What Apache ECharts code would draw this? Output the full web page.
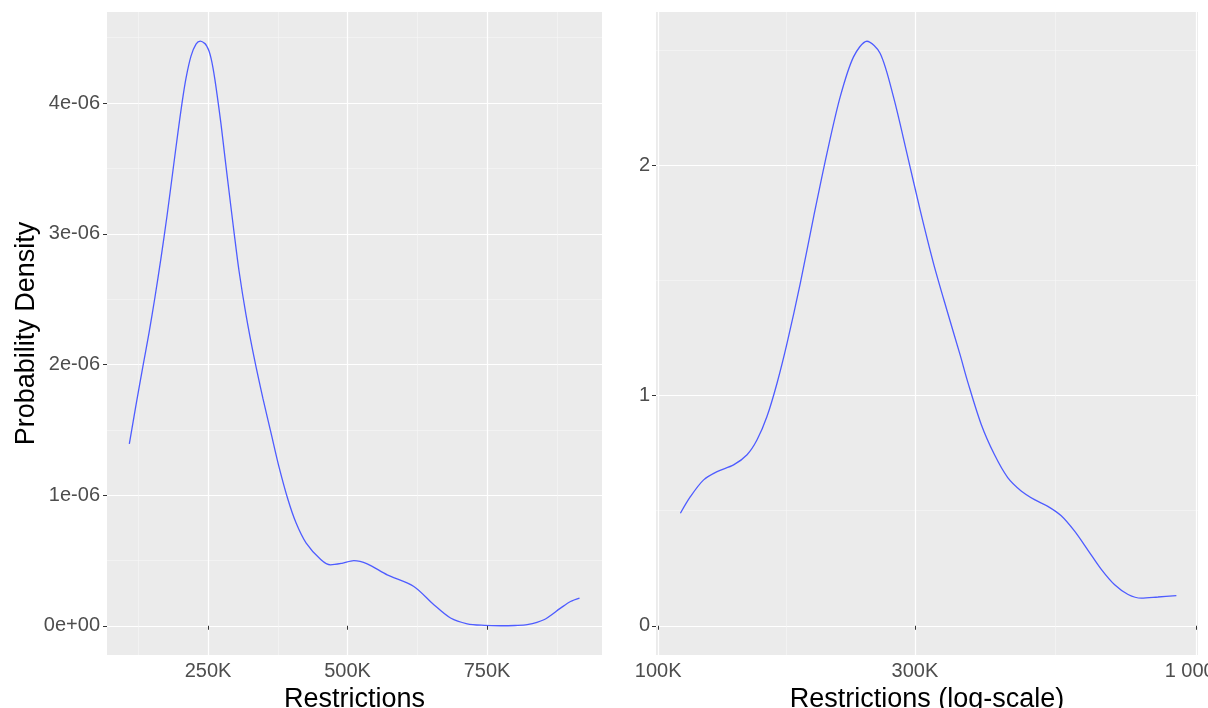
<!DOCTYPE html>
<html>
<head>
<meta charset="utf-8">
<script src="https://cdn.jsdelivr.net/npm/echarts@6/dist/echarts.min.js"></script>
<style>
html,body{margin:0;padding:0;background:#fff;}
#chart{width:1208px;height:708px;}
</style>
</head>
<body>
<div id="chart"></div>
<script>
// Left panel: density on linear scale
const linX = [109000,121000,133500,144300,155000,165800,176500,187300,196200,203400,210600,219500,228500,236200,244600,248200,251800,255400,259000,262500,266100,273300,280500,287600,296600,305600,318100,332400,348600,362900,377200,393400,407700,425600,452500,469500,490000,511300,535300,571100,618800,654700,684600,714500,745000,774200,800000,822000,851800,881700,899600,915700];
const linY = [1.392e-6,1.690e-6,1.989e-6,2.241e-6,2.516e-6,2.815e-6,3.136e-6,3.488e-6,3.778e-6,4.000e-6,4.191e-6,4.359e-6,4.451e-6,4.474e-6,4.455e-6,4.432e-6,4.398e-6,4.344e-6,4.268e-6,4.176e-6,4.069e-6,3.839e-6,3.579e-6,3.327e-6,3.013e-6,2.715e-6,2.379e-6,2.057e-6,1.736e-6,1.476e-6,1.216e-6,0.964e-6,0.788e-6,0.635e-6,0.505e-6,0.466e-6,0.478e-6,0.499e-6,0.474e-6,0.390e-6,0.301e-6,0.161e-6,0.059e-6,0.015e-6,0.003e-6,0.000e-6,0.002e-6,0.008e-6,0.046e-6,0.135e-6,0.186e-6,0.212e-6];

// Right panel: density on log scale
const logX = [110000,114800,121500,128700,138100,146300,152700,159300,166300,173600,183700,194500,205900,217900,230700,244300,258600,273700,289900,306800,324800,343900,364000,376000,398100,421500,446200,472600,500400,529700,561000,594000,629100,665900,705000,746700,790300,848600,918000];
const logY = [0.489,0.561,0.634,0.670,0.699,0.743,0.808,0.909,1.054,1.228,1.488,1.777,2.053,2.298,2.472,2.540,2.487,2.298,2.053,1.806,1.575,1.372,1.177,1.060,0.877,0.744,0.644,0.586,0.548,0.519,0.478,0.411,0.328,0.245,0.178,0.136,0.120,0.125,0.131];

// Tick values
const linXTicks = [250000,500000,750000];
const linXMinor = [125000,375000,625000,875000];
const linYTicks = [0,1e-6,2e-6,3e-6,4e-6];
const linYMinor = [0.5e-6,1.5e-6,2.5e-6,3.5e-6,4.5e-6];
const logXTicks = [100000,300000,1000000];
const logXMinor = [173205,547723];
const logYTicks = [0,1,2];
const logYMinor = [0.5,1.5,2.5];

const TICK_COLOR = '#4D4D4D';
const LINE_COLOR = '#4E5CFF';
const FONT = 'Liberation Sans, Arial, sans-serif';

function sci(v){
  let s = v.toExponential(0);
  return s.replace(/e([+-])(\d)$/, 'e$10$2');
}
function kfmt(v){
  if (v >= 1000000) return '1 000K';
  return Math.round(v/1000) + 'K';
}

function majorAxis(common, ticks, fmt, extra){
  return Object.assign({
    axisLine:{show:false},
    axisTick:{show:true, customValues:ticks, length:4, lineStyle:{color:'#333333', width:1}},
    axisLabel:{customValues:ticks, formatter:fmt, color:TICK_COLOR, fontSize:20, fontFamily:FONT},
    splitLine:{show:true, lineStyle:{color:'#FFFFFF', width:1.2}},
    minorTick:{show:false}, minorSplitLine:{show:false}
  }, common, extra);
}
function minorAxis(common, ticks, extra){
  return Object.assign({
    axisLine:{show:false},
    axisTick:{show:false, customValues:ticks},
    axisLabel:{show:false, customValues:ticks},
    splitLine:{show:true, lineStyle:{color:'#F6F6F6', width:0.6}}
  }, common, extra);
}

const chart = echarts.init(document.getElementById('chart'), null, {renderer:'canvas'});
const lx = {type:'value', gridIndex:0, min:69000, max:956000};
const ly = {type:'value', gridIndex:0, min:-0.2237e-6, max:4.697e-6};
const rx = {type:'log', logBase:10, gridIndex:1, min:99100, max:1007000};
const ry = {type:'value', gridIndex:1, min:-0.127, max:2.667};

const option = {
  animation:false,
  backgroundColor:'#FFFFFF',
  textStyle:{fontFamily:FONT},
  grid:[
    {left:107, top:12, width:495, height:643, show:true, backgroundColor:'#EBEBEB', borderWidth:0, containLabel:false, outerBoundsMode:'none'},
    {left:656, top:12, width:542, height:643, show:true, backgroundColor:'#EBEBEB', borderWidth:0, containLabel:false, outerBoundsMode:'none'}
  ],
  xAxis:[
    majorAxis(lx, linXTicks, kfmt, {position:'bottom', axisLabel:{customValues:linXTicks, formatter:kfmt, color:TICK_COLOR, fontSize:20, fontFamily:FONT, margin:6},
      name:'Restrictions', nameLocation:'middle', nameGap:21, nameTextStyle:{fontSize:27, color:'#000000', fontFamily:FONT}}),
    minorAxis(lx, linXMinor, {position:'top'}),
    majorAxis(rx, logXTicks, kfmt, {position:'bottom', axisLabel:{customValues:logXTicks, formatter:kfmt, color:TICK_COLOR, fontSize:20, fontFamily:FONT, margin:6},
      name:'Restrictions (log-scale)', nameLocation:'middle', nameGap:21, nameTextStyle:{fontSize:27, color:'#000000', fontFamily:FONT}}),
    minorAxis(rx, logXMinor, {position:'top'})
  ],
  yAxis:[
    majorAxis(ly, linYTicks, sci, {position:'left', axisLabel:{customValues:linYTicks, formatter:sci, color:TICK_COLOR, fontSize:20, fontFamily:FONT, margin:7},
      name:'Probability Density', nameLocation:'middle', nameGap:64, nameRotate:90, nameTextStyle:{fontSize:27, color:'#000000', fontFamily:FONT}}),
    minorAxis(ly, linYMinor, {position:'right'}),
    majorAxis(ry, logYTicks, v=>String(v), {position:'left', axisLabel:{customValues:logYTicks, formatter:v=>String(v), color:TICK_COLOR, fontSize:20, fontFamily:FONT, margin:6}}),
    minorAxis(ry, logYMinor, {position:'right'})
  ],
  series:[
    {type:'line', xAxisIndex:0, yAxisIndex:0, data:linX.map((x,i)=>[x, linY[i]]), showSymbol:false, symbol:'none', smooth:0.3,
     lineStyle:{color:LINE_COLOR, width:1.3}, z:5, silent:true},
    {type:'line', xAxisIndex:2, yAxisIndex:2, data:logX.map((x,i)=>[x, logY[i]]), showSymbol:false, symbol:'none', smooth:0.3,
     lineStyle:{color:LINE_COLOR, width:1.3}, z:5, silent:true}
  ]
};
chart.setOption(option);
</script>
</body>
</html>
